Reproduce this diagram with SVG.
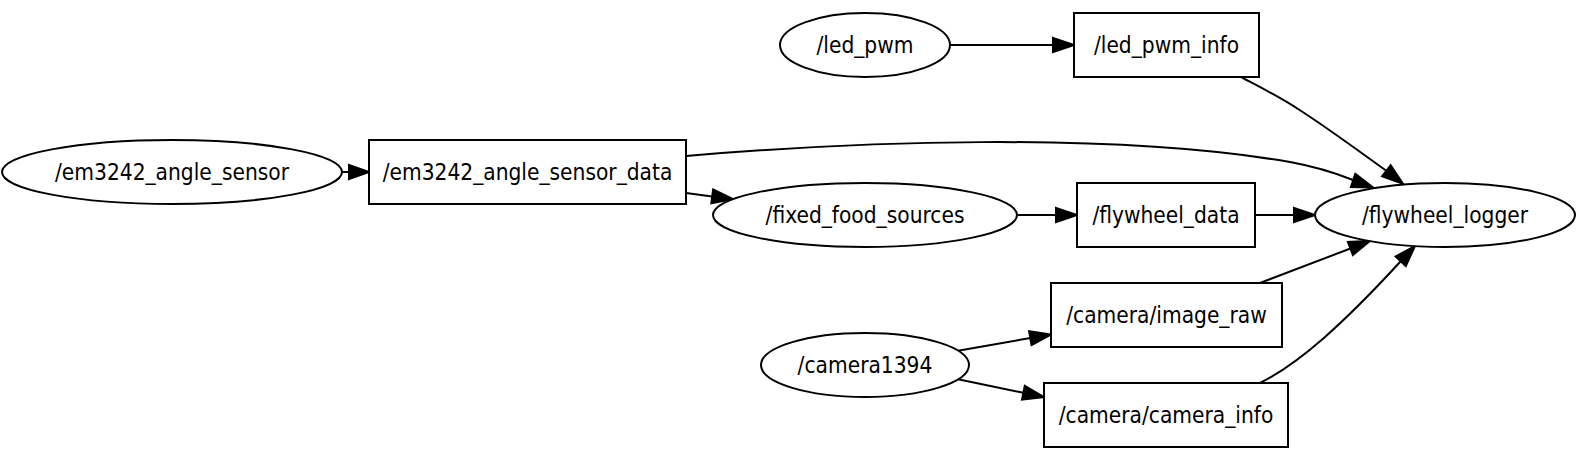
<svg xmlns="http://www.w3.org/2000/svg" width="1578" height="456" viewBox="0 0 1578 456">
<style>
.n{fill:#fff;stroke:#000;stroke-width:2}
.t{font-family:"DejaVu Sans Condensed","DejaVu Sans",sans-serif;font-stretch:condensed;font-size:22.5px;text-anchor:middle;fill:#000}
.e{fill:none;stroke:#000;stroke-width:2}
.a{fill:#000;stroke:#000;stroke-width:2}
</style>
<rect width="1578" height="456" fill="#fff"/>
<g id="edges">
<path class="e" d="M342,172 L349,172"/>
<polygon class="a" points="349,165 369,172 349,179"/>
<path class="e" d="M686,156 C851,142 1107,131 1290,162 C1312,166 1333,172 1353,180"/>
<polygon class="a" points="1355.3,173.8 1373,187.4 1350.9,187"/>
<path class="e" d="M686,193 L712.2,196.4"/>
<polygon class="a" points="713.1,189.5 733,199.1 711.3,203.3"/>
<path class="e" d="M950,45 L1053,45"/>
<polygon class="a" points="1053,38 1074,45 1053,52"/>
<path class="e" d="M1241,77 C1258,86 1280,97 1298,109 C1325,126 1360,152 1386.4,170.8"/>
<polygon class="a" points="1390.7,165.3 1403,183.7 1382.1,176.3"/>
<path class="e" d="M1017,215 L1056,215"/>
<polygon class="a" points="1056,208 1077,215 1056,222"/>
<path class="e" d="M1255,215 L1294,215"/>
<polygon class="a" points="1294,208 1315,215 1294,222"/>
<path class="e" d="M1260,283 L1350.4,248.5"/>
<polygon class="a" points="1352.9,255 1370,241 1347.9,242"/>
<path class="e" d="M1260,383 C1300,363 1345,322 1400.7,261.3"/>
<polygon class="a" points="1405.8,266.1 1415,246 1395.6,256.5"/>
<path class="e" d="M958,350.7 L1030.3,338.1"/>
<polygon class="a" points="1031.5,345 1051,334.5 1029.1,331.2"/>
<path class="e" d="M958,379.3 L1023.4,392.8"/>
<polygon class="a" points="1024.8,385.9 1044,397 1022,399.7"/>
</g>
<g id="em3242_angle_sensor"><ellipse class="n" cx="172" cy="172" rx="170" ry="32"/><text class="t" x="172" y="180">/em3242_angle_sensor</text></g>
<g id="em3242_angle_sensor_data"><rect class="n" x="369" y="140" width="317" height="64"/><text class="t" x="527.5" y="180">/em3242_angle_sensor_data</text></g>
<g id="led_pwm"><ellipse class="n" cx="865" cy="45" rx="85" ry="32"/><text class="t" x="865" y="53">/led_pwm</text></g>
<g id="fixed_food_sources"><ellipse class="n" cx="865" cy="215" rx="152" ry="32"/><text class="t" x="865" y="223">/fixed_food_sources</text></g>
<g id="camera1394"><ellipse class="n" cx="865" cy="365" rx="104" ry="32"/><text class="t" x="865" y="373">/camera1394</text></g>
<g id="led_pwm_info"><rect class="n" x="1074" y="13" width="185" height="64"/><text class="t" x="1166.5" y="53">/led_pwm_info</text></g>
<g id="flywheel_data"><rect class="n" x="1077" y="183" width="178" height="64"/><text class="t" x="1166" y="223">/flywheel_data</text></g>
<g id="camera_image_raw"><rect class="n" x="1051" y="283" width="231" height="64"/><text class="t" x="1166.5" y="323">/camera/image_raw</text></g>
<g id="camera_camera_info"><rect class="n" x="1044" y="383" width="244" height="64"/><text class="t" x="1166" y="423">/camera/camera_info</text></g>
<g id="flywheel_logger"><ellipse class="n" cx="1445" cy="215" rx="130" ry="32"/><text class="t" x="1445" y="223">/flywheel_logger</text></g>
</svg>
